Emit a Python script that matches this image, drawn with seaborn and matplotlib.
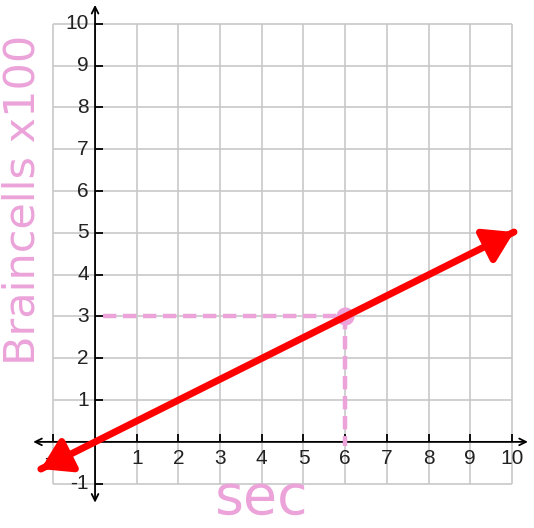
import numpy as np
import matplotlib
matplotlib.use("Agg")
import matplotlib.pyplot as plt
import pandas as pd
import seaborn as sns

# grid range and tick labels
ticks = list(range(-1, 11))
x_tick_labels = [str(t) for t in ticks if t != 0]
y_tick_labels = [str(t) for t in ticks if t != 0]

# red line (seconds vs braincells x100), arrow at both ends
line_x = [-1.3, 10.05]
line_y = [-0.65, 5.02]

# pink dashed guide lines reading off the point (6, 3)
guide_h_x = [0.2, 6.0]
guide_h_y = [3.0, 3.0]
guide_v_x = [6.0, 6.0]
guide_v_y = [3.0, -0.1]
point_x = [6.0]
point_y = [3.0]

sns.set_style("white")
plt.rcParams['font.family'] = ['Liberation Sans', 'DejaVu Sans']

pink = "#eba3d9"
grid_col = "#c8c8c8"

fig = plt.figure(figsize=(5.34, 5.28), dpi=100)
ax = fig.add_axes([0, 0, 1, 1])
ax.set_xlim(-2.28, 10.53)
ax.set_ylim(-2.06, 10.57)
ax.axis("off")

# grid
ax.vlines(ticks, -1, 10, color=grid_col, lw=1.2, zorder=1)
ax.hlines(ticks, -1, 10, color=grid_col, lw=1.2, zorder=1)

# axes with arrows
ax.annotate("", xy=(10.45, 0), xytext=(-1.55, 0),
            arrowprops=dict(arrowstyle="<->", color="black", lw=1.3, mutation_scale=12), zorder=3)
ax.annotate("", xy=(0, 10.52), xytext=(0, -1.52),
            arrowprops=dict(arrowstyle="<->", color="black", lw=1.3, mutation_scale=12), zorder=3)

# tick marks and labels
tk = [t for t in ticks if t != 0]
ax.vlines(tk, 0, 0.2, color="black", lw=1.3, zorder=3)
ax.hlines(tk, 0, 0.2, color="black", lw=1.3, zorder=3)
for t, lab in zip(tk, x_tick_labels):
    ax.text(t, -0.18, lab, ha="center", va="top", fontsize=15, color="#222222", zorder=4)
for t, lab in zip(tk, y_tick_labels):
    ax.text(-0.15, t, lab, ha="right", va="center", fontsize=15, color="#222222", zorder=4)

# pink guides
sns.lineplot(x=guide_h_x, y=guide_h_y, ax=ax, color=pink, lw=3.2,
             estimator=None, sort=False, linestyle=(0, (3, 1.5)), zorder=5)
sns.lineplot(x=guide_v_x, y=guide_v_y, ax=ax, color=pink, lw=3.2,
             estimator=None, sort=False, linestyle=(0, (3, 1.5)), zorder=5)
sns.scatterplot(x=point_x, y=point_y, ax=ax, color=pink, s=170, linewidth=0, zorder=6)

# red line with arrow heads
sns.lineplot(x=line_x, y=line_y, ax=ax, color="red", lw=5, estimator=None, sort=False, zorder=7)
for (x0, y0), (x1, y1) in [((line_x[0], line_y[0]), (line_x[1], line_y[1])),
                           ((line_x[1], line_y[1]), (line_x[0], line_y[0]))]:
    sx = x0 + (x1 - x0) * 0.06
    sy = y0 + (y1 - y0) * 0.06
    ax.annotate("", xy=(x0, y0), xytext=(sx, sy),
                arrowprops=dict(arrowstyle="-|>,head_length=0.8,head_width=0.5", color="red",
                                lw=5, mutation_scale=22, shrinkA=0, shrinkB=0), zorder=8)

# handwritten labels
ax.text(-1.75, 5.8, "Braincells x100", rotation=90, ha="center", va="center",
        fontsize=31, color=pink, family=["DejaVu Sans"], zorder=4)
ax.text(4.0, -1.35, "sec", ha="center", va="center", fontsize=40, color=pink,
        family=["DejaVu Sans"], zorder=4)

fig.savefig("out.png", dpi=100)
